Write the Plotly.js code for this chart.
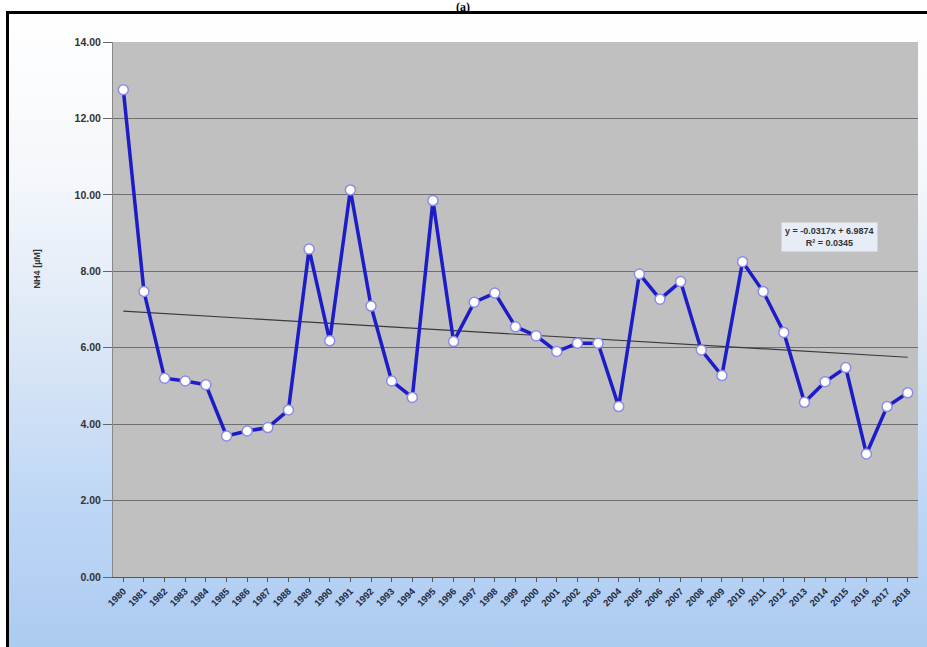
<!DOCTYPE html>
<html>
<head>
<meta charset="utf-8">
<script src="https://cdn.plot.ly/plotly-3.0.1.min.js"></script>
<style>
  html, body { margin: 0; padding: 0; background: #ffffff; }
  #wrap { position: relative; width: 927px; height: 647px; overflow: hidden; }
  #bg { position: absolute; left: 6px; top: 11px; width: 940px; height: 660px;
        border-left: 3px solid #000; border-top: 3px solid #000;
        background: linear-gradient(to bottom, #ffffff 0%, #f4f7fb 25%, #dbe7f6 50%, #bdd6f5 75%, #a9c9f1 100%); }
  #chart { position: absolute; left: 0; top: 0; width: 927px; height: 647px; }
</style>
</head>
<body>
<div id="wrap">
  <div id="bg"></div>
  <div id="chart"></div>
</div>
<script>
const years = ["1980","1981","1982","1983","1984","1985","1986","1987","1988","1989",
               "1990","1991","1992","1993","1994","1995","1996","1997","1998","1999",
               "2000","2001","2002","2003","2004","2005","2006","2007","2008","2009",
               "2010","2011","2012","2013","2014","2015","2016","2017","2018"];
const nh4 = [12.75, 7.47, 5.20, 5.13, 5.03, 3.69, 3.82, 3.91, 4.37, 8.58,
             6.18, 10.13, 7.09, 5.13, 4.70, 9.85, 6.16, 7.19, 7.43, 6.55,
             6.31, 5.90, 6.12, 6.12, 4.46, 7.93, 7.27, 7.73, 5.94, 5.27,
             8.25, 7.47, 6.40, 4.57, 5.11, 5.48, 3.22, 4.46, 4.82];
const trendSlope = -0.0317;
const trendIntercept = 6.9874;
const trendLabel = "y = -0.0317x + 6.9874<br>R² = 0.0345";
const yTicks = [0, 2, 4, 6, 8, 10, 12, 14];

const trendY = years.map((_, i) => trendIntercept + trendSlope * (i + 1));

const traces = [
  {
    x: years, y: trendY, type: "scatter", mode: "lines",
    line: { color: "#3a3a3a", width: 1.2 }, hoverinfo: "skip", showlegend: false
  },
  {
    x: years, y: nh4, type: "scatter", mode: "lines+markers",
    line: { color: "#1c1cc8", width: 3.5 },
    marker: { symbol: "circle", size: 10, color: "#ffffff", line: { color: "#8c8ce8", width: 1.5 } },
    showlegend: false
  }
];

const layout = {
  width: 927, height: 647,
  margin: { l: 113, r: 9, t: 42, b: 70 },
  paper_bgcolor: "rgba(0,0,0,0)",
  plot_bgcolor: "#c0c0c0",
  showlegend: false,
  xaxis: {
    type: "category",
    range: [-0.5, 38.5],
    tickangle: -45,
    tickfont: { family: "Liberation Sans, Arial, sans-serif", size: 9.5, color: "#1e2a40", weight: "bold" },
    ticks: "outside", ticklen: 4, tickcolor: "#555",
    showgrid: false,
    showline: true, linecolor: "#555", linewidth: 1,
    zeroline: false
  },
  yaxis: {
    range: [0, 14],
    tickvals: yTicks,
    tickformat: ".2f",
    tickfont: { family: "Liberation Sans, Arial, sans-serif", size: 10.5, color: "#333", weight: "bold" },
    ticks: "outside", ticklen: 9, tickcolor: "#666",
    showgrid: true, gridcolor: "#6e6e6e", gridwidth: 1,
    showline: true, linecolor: "#888", linewidth: 1,
    zeroline: false
  },
  annotations: [
    {
      text: "<b>(a)</b>", xref: "paper", yref: "paper",
      x: 0.435, y: 1, xanchor: "center", yanchor: "top",
      yshift: 43, showarrow: false, borderpad: 0,
      font: { family: "Liberation Serif, Times New Roman, serif", size: 12, color: "#000" }
    },
    {
      text: "NH4 [µM]", xref: "paper", yref: "paper",
      x: 0, y: 0.575, xanchor: "center", yanchor: "middle",
      xshift: -76, textangle: -90, showarrow: false,
      font: { family: "Liberation Sans, Arial, sans-serif", size: 9, color: "#333", weight: "bold" }
    },
    {
      text: trendLabel, xref: "paper", yref: "paper",
      x: 0.890, y: 0.635, xanchor: "center", yanchor: "middle",
      showarrow: false, align: "center",
      bgcolor: "#e6edf7", borderpad: 3,
      font: { family: "Liberation Sans, Arial, sans-serif", size: 9, color: "#333", weight: "bold" }
    }
  ]
};

Plotly.newPlot("chart", traces, layout, { displayModeBar: false, staticPlot: true });
</script>
</body>
</html>
